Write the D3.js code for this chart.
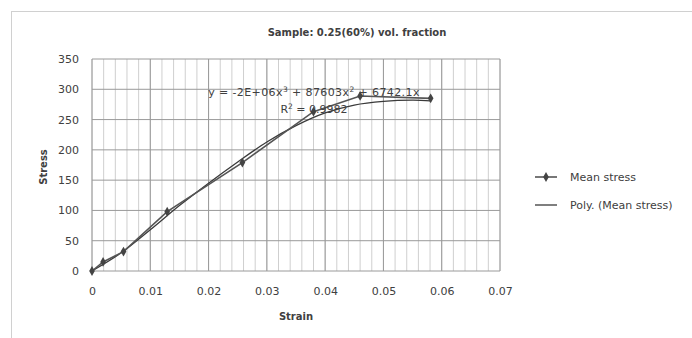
<!DOCTYPE html>
<html>
<head>
<meta charset="utf-8">
<script src="https://cdn.jsdelivr.net/npm/d3@7"></script>
<style>
  body { margin: 0; background: #fff; }
  text { font-family: "DejaVu Sans", sans-serif; fill: #404040; }
</style>
</head>
<body>
<div id="chart"></div>
<script>
// Declare constants
const FRAME_WIDTH = 692;
const FRAME_HEIGHT = 338;
const MARGINS = {left: 92, right: 192, top: 59, bottom: 67};
const VIS_WIDTH = FRAME_WIDTH - MARGINS.left - MARGINS.right;
const VIS_HEIGHT = FRAME_HEIGHT - MARGINS.top - MARGINS.bottom;

// data
const strain = [0, 0.0019, 0.0054, 0.0129, 0.0258, 0.0380, 0.0460, 0.0581];
const meanStress = [0, 15, 32, 98, 179, 263, 289, 285];
// trendline as drawn in the picture
const fitStrain = [0, 0.005, 0.01, 0.015, 0.02, 0.025, 0.03, 0.035, 0.04, 0.045, 0.05, 0.055, 0.0581];
const fitStress = [0, 30, 68, 108, 145, 180, 213, 240, 261, 274, 280, 282, 281];
const xTicks = [0, 0.01, 0.02, 0.03, 0.04, 0.05, 0.06, 0.07];
const yTicks = [0, 50, 100, 150, 200, 250, 300, 350];
const minorX = d3.range(0, 0.0701, 0.002);

const FRAME = d3.select("#chart")
  .append("svg")
    .attr("width", FRAME_WIDTH)
    .attr("height", FRAME_HEIGHT);

// outer chart border
FRAME.append("rect")
  .attr("x", 11.5).attr("y", 11.5)
  .attr("width", 720).attr("height", 360)
  .attr("fill", "none")
  .attr("stroke", "#d0d0d0");

const X_SCALE = d3.scaleLinear().domain([0, 0.07]).range([0, VIS_WIDTH]);
const Y_SCALE = d3.scaleLinear().domain([0, 350]).range([VIS_HEIGHT, 0]);

const G = FRAME.append("g")
  .attr("transform", "translate(" + MARGINS.left + "," + MARGINS.top + ")");

// minor vertical gridlines
G.selectAll(".minor")
  .data(minorX)
  .enter()
  .append("line")
    .attr("x1", d => X_SCALE(d)).attr("x2", d => X_SCALE(d))
    .attr("y1", 0).attr("y2", VIS_HEIGHT)
    .attr("stroke", "#cfcfcf");

// major vertical gridlines
G.selectAll(".majorx")
  .data(xTicks)
  .enter()
  .append("line")
    .attr("x1", d => X_SCALE(d)).attr("x2", d => X_SCALE(d))
    .attr("y1", 0).attr("y2", VIS_HEIGHT)
    .attr("stroke", "#9a9a9a");

// horizontal gridlines
G.selectAll(".majory")
  .data(yTicks)
  .enter()
  .append("line")
    .attr("x1", 0).attr("x2", VIS_WIDTH)
    .attr("y1", d => Y_SCALE(d)).attr("y2", d => Y_SCALE(d))
    .attr("stroke", "#9a9a9a");

// axes
const xAxis = G.append("g")
  .attr("transform", "translate(0," + VIS_HEIGHT + ")")
  .call(d3.axisBottom(X_SCALE).tickValues(xTicks).tickSize(0).tickPadding(16)
    .tickFormat(d => d === 0 ? "0" : d3.format(".2f")(d)));
const yAxis = G.append("g")
  .call(d3.axisLeft(Y_SCALE).tickValues(yTicks).tickSize(0).tickPadding(13));
[xAxis, yAxis].forEach(a => {
  a.select(".domain").remove();
  a.selectAll("text").attr("font-size", "11px").attr("font-family", "DejaVu Sans, sans-serif").attr("fill", "#404040");
});

const line = d3.line().x(d => X_SCALE(d[0])).y(d => Y_SCALE(d[1]));

// polynomial trendline
G.append("path")
  .datum(fitStrain.map((x, i) => [x, fitStress[i]]))
  .attr("d", line.curve(d3.curveCatmullRom))
  .attr("fill", "none")
  .attr("stroke", "#3a3a3a")
  .attr("stroke-width", 1.3);

// mean stress series
G.append("path")
  .datum(strain.map((x, i) => [x, meanStress[i]]))
  .attr("d", d3.line().x(d => X_SCALE(d[0])).y(d => Y_SCALE(d[1])))
  .attr("fill", "none")
  .attr("stroke", "#555")
  .attr("stroke-width", 1.6);

G.selectAll(".pt")
  .data(strain.map((x, i) => [x, meanStress[i]]))
  .enter()
  .append("path")
    .attr("transform", d => "translate(" + X_SCALE(d[0]) + "," + Y_SCALE(d[1]) + ")")
    .attr("d", d3.symbol().type(d3.symbolDiamond).size(28))
    .attr("fill", "#444");

// equation label
G.append("text")
  .attr("x", 222).attr("y", 37)
  .attr("text-anchor", "middle")
  .attr("font-size", "11px")
  .attr("letter-spacing", "0.4px")
  .html("y = -2E+06x<tspan dy='-4' font-size='7.5'>3</tspan><tspan dy='4'> + 87603x</tspan><tspan dy='-4' font-size='7.5'>2</tspan><tspan dy='4'> + 6742.1x</tspan>");
G.append("text")
  .attr("x", 222).attr("y", 54)
  .attr("text-anchor", "middle")
  .attr("font-size", "11px")
  .html("R<tspan dy='-4' font-size='7.5'>2</tspan><tspan dy='4'> = 0.9982</tspan>");

// titles
FRAME.append("text")
  .attr("x", 357).attr("y", 36)
  .attr("text-anchor", "middle")
  .attr("font-size", "10px")
  .attr("font-weight", "bold")
  .text("Sample: 0.25(60%) vol. fraction");
FRAME.append("text")
  .attr("x", 296).attr("y", 320)
  .attr("text-anchor", "middle")
  .attr("font-size", "10px")
  .attr("font-weight", "bold")
  .text("Strain");
FRAME.append("text")
  .attr("transform", "translate(47,167) rotate(-90)")
  .attr("text-anchor", "middle")
  .attr("font-size", "10px")
  .attr("font-weight", "bold")
  .text("Stress");

// legend
const LEG = FRAME.append("g").attr("transform", "translate(535,177)");
LEG.append("line").attr("x1", 0).attr("x2", 22).attr("y1", 0).attr("y2", 0)
  .attr("stroke", "#555").attr("stroke-width", 1.6);
LEG.append("path").attr("transform", "translate(11,0)")
  .attr("d", d3.symbol().type(d3.symbolDiamond).size(28)).attr("fill", "#444");
LEG.append("text").attr("x", 35).attr("y", 4).attr("font-size", "11px").text("Mean stress");
LEG.append("line").attr("x1", 0).attr("x2", 22).attr("y1", 28).attr("y2", 28)
  .attr("stroke", "#3a3a3a").attr("stroke-width", 1.3);
LEG.append("text").attr("x", 35).attr("y", 32).attr("font-size", "11px").text("Poly. (Mean stress)");
</script>
</body>
</html>
